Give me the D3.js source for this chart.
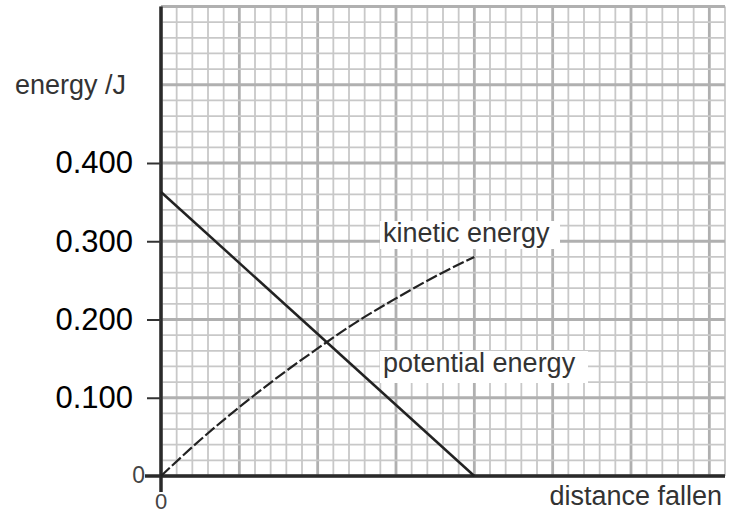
<!DOCTYPE html>
<html>
<head>
<meta charset="utf-8">
<script src="https://cdn.jsdelivr.net/npm/d3@7"></script>
<style>
  body { margin: 0; background: #fff; }
  text { font-family: "Liberation Sans", Arial, sans-serif; }
</style>
</head>
<body>
<div id="chart"></div>
<script>
// values (x in big grid squares)
var yTicks = [0.1, 0.2, 0.3, 0.4];
var yTickLabels = ["0.100", "0.200", "0.300", "0.400"];
var peX = [0, 4];
var peY = [0.363, 0];
var keX = [0, 0.5, 1, 1.5, 2, 2.5, 3, 3.5, 4];
var keY = [0, 0.046, 0.088, 0.127, 0.163, 0.197, 0.227, 0.255, 0.280];

var width = 739, height = 513;

var svg = d3.select("#chart").append("svg")
    .attr("width", width)
    .attr("height", height);

var x = d3.scaleLinear().domain([0, 7.2]).range([161, 725]);
var y = d3.scaleLinear().domain([0, 0.6]).range([476, 6.5]);

// graph paper grid
var grid = svg.append("g");
var xMinor = d3.range(0, 36.5, 1).map(function(i) { return i * 0.2; });
var yMinor = d3.range(0, 30.5, 1).map(function(i) { return i * 0.02; });

grid.selectAll(".vminor")
    .data(xMinor)
    .enter().append("line")
    .attr("x1", function(d) { return x(d); })
    .attr("x2", function(d) { return x(d); })
    .attr("y1", y(0.6))
    .attr("y2", y(0))
    .style("stroke", function(d, i) { return i % 5 == 0 ? "#b0b0b0" : "#c8c8c8"; })
    .style("stroke-width", function(d, i) { return i % 5 == 0 ? 2.8 : 1.8; });

grid.selectAll(".hminor")
    .data(yMinor)
    .enter().append("line")
    .attr("x1", x(0))
    .attr("x2", x(7.2))
    .attr("y1", function(d) { return y(d); })
    .attr("y2", function(d) { return y(d); })
    .style("stroke", function(d, i) { return i % 5 == 0 ? "#b0b0b0" : "#c8c8c8"; })
    .style("stroke-width", function(d, i) { return i % 5 == 0 ? 2.8 : 1.8; });

// axes
svg.append("line")
    .attr("x1", x(0)).attr("x2", x(0))
    .attr("y1", y(0.6)).attr("y2", y(0) + 16)
    .style("stroke", "#2a2a2a").style("stroke-width", 3.5);
svg.append("line")
    .attr("x1", x(0) - 16).attr("x2", x(7.2))
    .attr("y1", y(0)).attr("y2", y(0))
    .style("stroke", "#2a2a2a").style("stroke-width", 3.5);

// y ticks
var yAxis = d3.axisLeft(y)
    .tickValues(yTicks)
    .tickSize(14)
    .tickPadding(14)
    .tickFormat(function(d, i) { return yTickLabels[i]; });
var ya = svg.append("g")
    .attr("transform", "translate(" + x(0) + ",0)")
    .call(yAxis);
ya.select(".domain").remove();
ya.selectAll(".tick line").style("stroke", "#333").style("stroke-width", 2);
ya.selectAll(".tick text")
    .style("font-family", "Liberation Sans, Arial, sans-serif")
    .style("font-size", "31px")
    .style("fill", "#000");

// zero labels
svg.append("text")
    .attr("x", x(0) - 16).attr("y", y(0) + 7)
    .attr("text-anchor", "end")
    .style("font-size", "23px").style("fill", "#444")
    .text("0");
svg.append("text")
    .attr("x", x(0)).attr("y", y(0) + 33)
    .attr("text-anchor", "middle")
    .style("font-size", "22px").style("fill", "#444")
    .text("0");

// lines
var line = d3.line()
    .x(function(d) { return x(d[0]); })
    .y(function(d) { return y(d[1]); });

svg.append("path")
    .attr("d", line(peX.map(function(v, i) { return [v, peY[i]]; })))
    .style("fill", "none")
    .style("stroke", "#222")
    .style("stroke-width", 2.5);

svg.append("path")
    .attr("d", line.curve(d3.curveMonotoneX)(keX.map(function(v, i) { return [v, keY[i]]; })))
    .style("fill", "none")
    .style("stroke", "#222")
    .style("stroke-width", 2.2)
    .style("stroke-dasharray", "12,3");

// labels with white boxes
function label(txt, x0, base, boxW, boxH) {
    svg.append("rect")
        .attr("x", x0 - 3).attr("y", base - 21)
        .attr("width", boxW).attr("height", boxH)
        .style("fill", "#fff");
    svg.append("text")
        .attr("x", x0).attr("y", base)
        .style("font-size", "27px").style("fill", "#333")
        .text(txt);
}
label("kinetic energy", 383, 242, 180, 28);
label("potential energy", 383, 372, 208, 32);

svg.append("text")
    .attr("x", 15).attr("y", 94)
    .style("font-size", "27px").style("fill", "#333")
    .text("energy /J");

svg.append("text")
    .attr("x", 722).attr("y", 505)
    .attr("text-anchor", "end")
    .style("font-size", "27px").style("fill", "#333")
    .text("distance fallen");
</script>
</body>
</html>
